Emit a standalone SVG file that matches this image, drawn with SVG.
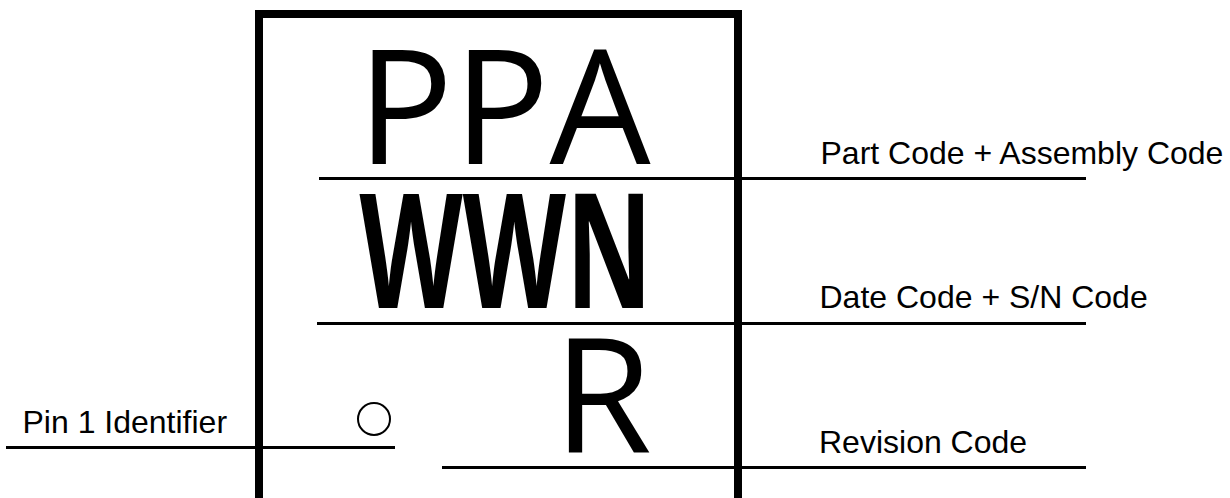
<svg xmlns="http://www.w3.org/2000/svg" width="1230" height="498" viewBox="0 0 1230 498">
<style>
.big{font-family:"Open Sans","Noto Sans",sans-serif;font-size:160px;fill:#000}
.lbl{font-family:"Liberation Sans",Arial,sans-serif;font-size:32px;fill:#000}
.ln{stroke:#000;stroke-width:3;fill:none}
</style>
<rect width="1230" height="498" fill="#fff"/>
<g id="chip">
<rect x="259" y="14" width="479" height="500" fill="none" stroke="#000" stroke-width="8"/>
<text class="big" x="357" y="164">PPA</text>
<text class="big" x="359.6" y="308.3" font-weight="700" textLength="293" lengthAdjust="spacingAndGlyphs">WWN</text>
<text class="big" x="553.3" y="453.3">R</text>
<circle id="pin1" cx="374" cy="419" r="16" fill="none" stroke="#000" stroke-width="2"/>
</g>
<g id="connectors">
<line class="ln" x1="319" y1="178.5" x2="1086" y2="178.5"/>
<line class="ln" x1="317" y1="323.5" x2="1086" y2="323.5"/>
<line class="ln" x1="442" y1="467.5" x2="1086" y2="467.5"/>
<line class="ln" x1="6" y1="447.5" x2="395" y2="447.5"/>
</g>
<g id="labels">
<text class="lbl" x="820.5" y="163.5">Part Code + Assembly Code</text>
<text class="lbl" x="819.5" y="307.5">Date Code + S/N Code</text>
<text class="lbl" x="819" y="452.7">Revision Code</text>
<text class="lbl" x="22.5" y="433.3">Pin 1 Identifier</text>
</g>
</svg>
